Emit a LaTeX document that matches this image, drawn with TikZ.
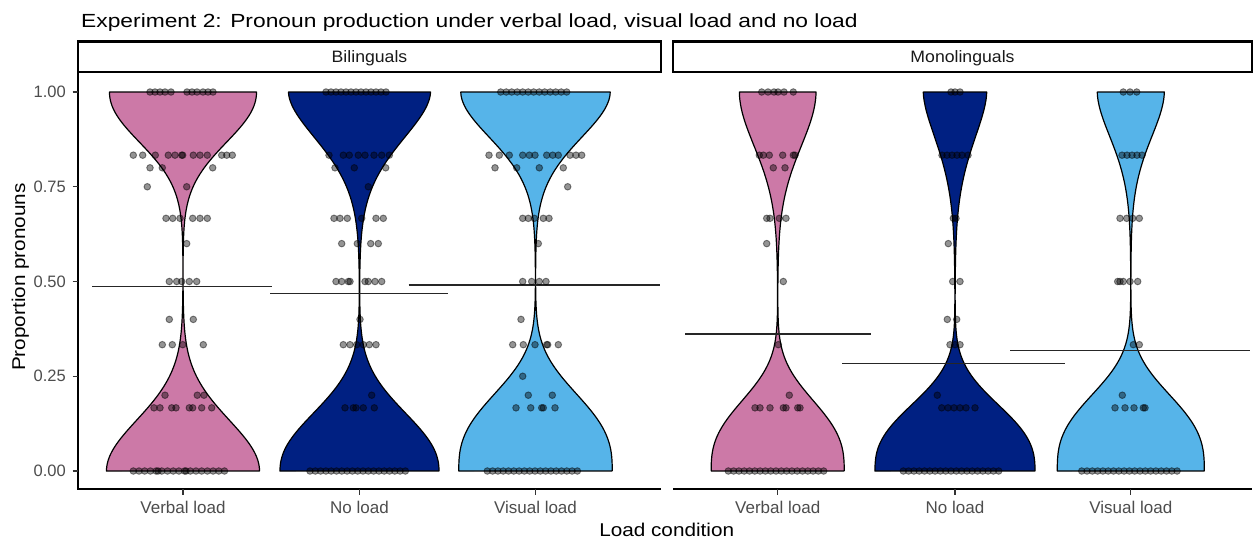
\documentclass[tikz,border=0pt]{standalone}
\usepackage{fontspec}
\setmainfont{Liberation Sans}
\newfontfamily\titlef[FakeStretch=1.2]{Liberation Sans}
\newfontfamily\axisf[FakeStretch=1.12]{Liberation Sans}
\newfontfamily\stripf[FakeStretch=1.07]{Liberation Sans}
\newfontfamily\tickf{Liberation Sans}
\definecolor{vpink}{HTML}{CC79A7}
\definecolor{vnavy}{HTML}{002082}
\definecolor{vsky}{HTML}{56B4E9}
\definecolor{ticktext}{HTML}{4D4D4D}
\tikzset{
  dot/.style={fill=black, fill opacity=0.42, draw=black, draw opacity=0.45, line width=0.9pt},
  violinline/.style={draw=black, line width=1.2pt, line join=round},
  meanline/.style={draw=black!85, line width=1.4pt},
  axisline/.style={draw=black, line width=1.3pt},
  tickline/.style={draw=black!80, line width=1.2pt},
  stripbox/.style={draw=black, line width=2.4pt, fill=white},
  ytick/.style={anchor=east, inner sep=0pt, text=ticktext, font=\tickf\fontsize{16.5}{18}\selectfont},
  xtick/.style={anchor=base, inner sep=0pt, text=ticktext, font=\tickf\fontsize{17}{19}\selectfont},
  striplabel/.style={anchor=base, inner sep=0pt, text=black!90, font=\stripf\fontsize{16.5}{18}\selectfont},
  axistitle/.style={anchor=base, inner sep=0pt, text=black, font=\axisf\fontsize{18.5}{20}\selectfont},
}
% violin: #1 centre x, #2 colour, #3 top half width, #4 top scale, #5 top exponent,
%         #6 bottom half width, #7 bottom scale, #8 bottom exponent
\newcommand\violin[8]{%
  \draw[violinline, fill=#2]
    plot[domain=0:1, samples=141, variable=\yv]
      ({#1-(#3*exp(-min(9,pow((1-\yv)/#4+0.001,#5)))+#6*exp(-min(9,pow(\yv/#7+0.001,#8))))}, {471-379*\yv})
    -- plot[domain=1:0, samples=141, variable=\yv]
      ({#1+(#3*exp(-min(9,pow((1-\yv)/#4+0.001,#5)))+#6*exp(-min(9,pow(\yv/#7+0.001,#8))))}, {471-379*\yv})
    -- cycle;}
\newcommand\pts[2]{\foreach \px in {#2}{\path[dot] (\px,{471-379*#1}) circle[radius=3.3pt];}}
\newcommand\ptrow[4]{\foreach \px in {#2,#3,...,#4}{\path[dot] (\px,{471-379*#1}) circle[radius=3.3pt];}}

\begin{document}
\begin{tikzpicture}[x=1pt, y=-1pt]
\fill[white] (0,0) rectangle (1254,542);
\useasboundingbox (0,0) rectangle (1254,542);

% title
\node[anchor=base west, inner sep=0pt, font=\titlef\fontsize{19}{21}\selectfont] (title) at (81,27.3)
  {Experiment 2: Pronoun production under verbal load, visual load and no load};

% strips
\draw[stripbox] (78,41.5) rectangle (661,72);
\draw[stripbox] (673,41.5) rectangle (1252,72);
\node[striplabel] (bil) at (369.5,62.5) {Bilinguals};
\node[striplabel] (mono) at (962.5,62.5) {Monolinguals};

% violins
\violin{183}{vpink}{73.5}{0.1805}{2.1}{76.5}{0.1897}{2.0}
\violin{359.5}{vnavy}{71}{0.1863}{1.8}{79.5}{0.2013}{2.2}
\violin{535.5}{vsky}{74.7}{0.176}{1.9}{76.7}{0.242}{2.7}
\violin{777.7}{vpink}{38.3}{0.209}{1.9}{66.5}{0.221}{2.7}
\violin{955}{vnavy}{31.7}{0.1926}{1.7}{80}{0.211}{2.6}
\violin{1130.8}{vsky}{33.5}{0.180}{1.8}{73.5}{0.236}{2.8}

% mean lines
\draw[meanline] (92,286.7) -- (272,286.7);
\draw[meanline] (270,293.3) -- (448,293.3);
\draw[meanline] (408.5,285) -- (660,285);
\draw[meanline] (685,334) -- (871,334);
\draw[meanline] (842,363.3) -- (1065,363.3);
\draw[meanline] (1010,350.7) -- (1250,350.7);

% points: bilinguals, verbal load
\pts{1}{150,155,160,165,171,187,192,197,203,208,213}
\pts{0.8333}{133.3,142.7,155.3,168.3,175,181.7,182.7,193.3,200,207.3,221.7,226.7,232.3}
\pts{0.8}{150,162.3,212.7}
\pts{0.75}{147.3,186.7}
\pts{0.6667}{166,172.7,180,192.7,200,207.3}
\pts{0.6}{186.7}
\pts{0.5}{169.3,176.7,181.7,189.3,196.7}
\pts{0.4}{169.3,193.3}
\pts{0.3333}{162.3,172.3,182.7,203.3}
\pts{0.2}{165,197.3,204}
\pts{0.1667}{154,160,171.7,176,189.3,192.7,201.7,211.7}
\ptrow{0}{133.3}{139}{229.3}
\pts{0}{158,186}
% bilinguals, no load
\ptrow{1}{326}{331}{387}
\pts{0.8333}{329,343.3,349.3,358.3,365,374,381.7,389.3}
\pts{0.8}{335,354.3,385.7}
\pts{0.75}{368.3}
\pts{0.6667}{334,340,347.3,361.7,376,383.3}
\pts{0.6}{341.7,357.3,370.7,378.3}
\pts{0.5}{336,341.7,348.3,350,365,368.3,375,381.7}
\pts{0.4}{360}
\pts{0.3333}{343.3,350,356.7,363.3,369.3,376}
\pts{0.2}{371.7}
\pts{0.1667}{345,353.3,356,363.3,374.3}
\ptrow{0}{310}{315.3}{406}
% bilinguals, visual load
\ptrow{1}{500.7}{506.2}{566.7}
\pts{0.8333}{489,499.3,509.3,522.7,529.3,535,546.7,552.7,558.3,570,576,581.7}
\pts{0.8}{495,516.7,539.3,563.3}
\pts{0.75}{567.7}
\pts{0.6667}{522.7,528.3,534.3,543.3,549}
\pts{0.6}{538.3}
\pts{0.5}{522.7,531.7,539.3,546}
\pts{0.4}{521}
\pts{0.3333}{512.7,523.3,535,546.7,547.7,558.3}
\pts{0.25}{522.7}
\pts{0.2}{528.3,552.3}
\pts{0.1667}{516,530.7,541.7,543.3,555}
\ptrow{0}{487.3}{492.6}{582.7}
% monolinguals, verbal load
\pts{1}{761.7,768,774,778,784,793.3}
\pts{0.8333}{759.3,763.3,769.3,782.7,793.3,795}
\pts{0.8}{773.3,785}
\pts{0.6667}{766.7,770,779.3,786}
\pts{0.6}{766.7}
\pts{0.5}{783.3}
\pts{0.3333}{778.3}
\pts{0.2}{789.3}
\pts{0.1667}{755,760,770,783.3,786,797.7,800}
\ptrow{0}{728.3}{733.6}{824}
% monolinguals, no load
\pts{1}{951,955,960}
\pts{0.8333}{942,947,952,957,962,968}
\pts{0.6667}{953.3,956}
\pts{0.6}{948.3}
\pts{0.5}{952.7,960}
\pts{0.4}{947.3,956.7}
\pts{0.3333}{950,955,960}
\pts{0.2}{937.3}
\pts{0.1667}{941.7,948,954,960,966,975}
\ptrow{0}{903.3}{908.6}{1003.3}
% monolinguals, visual load
\pts{1}{1123.3,1130,1136.7}
\pts{0.8333}{1122,1127,1132,1137,1142}
\pts{0.6667}{1120,1126.7,1132.7,1139.3}
\pts{0.5}{1117.7,1120,1123.3,1130,1137.7}
\pts{0.3333}{1133.3,1139.3}
\pts{0.2}{1122.3}
\pts{0.1667}{1115,1125,1134,1143.3,1145}
\ptrow{0}{1081.7}{1087}{1178.3}

% axes
\draw[axisline] (78,72) -- (78,489) -- (661,489);
\draw[axisline] (673,489) -- (1252,489);
\foreach \v/\lab in {0/0.00, 0.25/0.25, 0.5/0.50, 0.75/0.75, 1/1.00}{
  \draw[tickline] (72.5,{471-379*\v}) -- (78,{471-379*\v});
  \node[ytick] (yl\lab) at (66,{471-379*\v}) {\lab};
}
\foreach \cx/\nm/\lab in {183/a/Verbal load, 359.5/b/No load, 535.5/c/Visual load,
                          777.7/d/Verbal load, 955/e/No load, 1130.8/f/Visual load}{
  \draw[tickline] (\cx,489) -- (\cx,494.5);
  \node[xtick] (xl\nm) at (\cx,513.3) {\lab};
}
\node[axistitle] (xtitle) at (666.7,536.7) {Load condition};
\node[axistitle, rotate=90] (ytitle) at (25,277) {Proportion pronouns};
\end{tikzpicture}
\end{document}
